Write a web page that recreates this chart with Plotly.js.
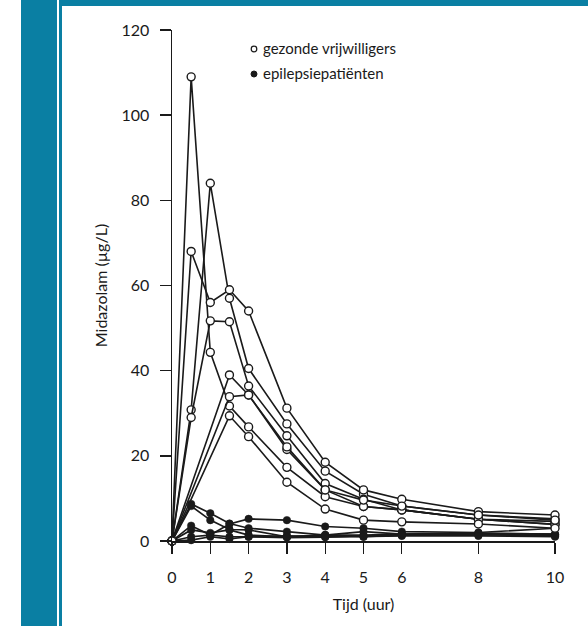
<!DOCTYPE html>
<html>
<head>
<meta charset="utf-8">
<script src="https://cdn.plot.ly/plotly-3.0.1.min.js"></script>
<style>
  html, body { margin: 0; padding: 0; background: #ffffff; }
  #wrap { position: relative; width: 588px; height: 626px; overflow: hidden; background: #ffffff; }
  .teal { position: absolute; background: #0a7fa3; }
  #chart { position: absolute; left: 0; top: 0; width: 588px; height: 626px; }
</style>
</head>
<body>
<div id="wrap">
  <div class="teal" style="left:21px; top:0; width:36px; height:626px;"></div>
  <div class="teal" style="left:59px; top:0; width:3px; height:626px;"></div>
  <div class="teal" style="left:59px; top:0; width:529px; height:6px;"></div>
  <div id="chart"></div>
</div>
<script>
// Time points (hours)
const tijd = [0, 0.5, 1, 1.5, 2, 3, 4, 5, 6, 8, 10];
const xTicks = [0, 1, 2, 3, 4, 5, 6, 8, 10];
const yTicks = [0, 20, 40, 60, 80, 100, 120];

// Healthy volunteers (open circles), midazolam µg/L
const vrijwilliger1 = [0, 109, 44.3, 31.7, 26.8, 17.3, 10.4, 8.1, 7.3, 5.1, 3.9];
const vrijwilliger2 = [0, 30.8, 84, 57, 40.5, 27.5, 16.4, 11, 8.2, 6.1, 5.2];
const vrijwilliger3 = [0, 68, 56, 59, 54, 31.2, 18.5, 12, 9.8, 6.9, 6.1];
const vrijwilliger4 = [0, 29, 51.7, 51.5, 36.4, 24.7, 13.5, 9.8, 7.3, 5.1, 4.6];
const vrijwilliger5 = [0, null, null, 39, 34.3, 21.5, 12, 8.1, 7.3, 5.1, 3.9];
const vrijwilliger6 = [0, null, null, 29.4, 24.5, 13.8, 7.5, 4.9, 4.5, 4.0, 3.0];
const vrijwilliger7 = [0, null, null, 33.9, 34.3, 22.1, 12, 9.6, 8.2, 6.1, 4.9];

// Epilepsy patients (filled circles)
const patient1 = [0, 8.7, 6.5, 4.1, 3.0, 2.2, 1.4, 1.4, 1.6, 1.8, 1.6];
const patient2 = [0, 8.2, 4.9, 2.7, 2.6, 1.0, 1.4, 1.0, 1.4, 1.5, 1.4];
const patient3 = [0, 3.6, 1.4, 4.0, 5.2, 4.9, 3.4, 3.0, 2.2, 2.0, 3.0];
const patient4 = [0, 2.6, 1.9, 2.6, 1.4, 1.0, 1.4, 2.2, 1.6, 1.8, 1.6];
const patient5 = [0, 1.0, 1.4, 1.0, 1.0, 1.2, 1.0, 1.2, 1.4, 1.5, 1.2];
const patient6 = [0, 0.2, 1.0, 0.5, 1.0, 0.8, 0.9, 1.0, 1.2, 1.2, 1.0];

const legendLabels = ["gezonde vrijwilligers", "epilepsiepatiënten"];

const ink = "#1a1a1a";
const volunteers = [vrijwilliger1, vrijwilliger2, vrijwilliger3, vrijwilliger4, vrijwilliger5, vrijwilliger6, vrijwilliger7];
const patients = [patient1, patient2, patient3, patient4, patient5, patient6];

const traces = [];
patients.forEach((p, i) => traces.push({
  x: tijd, y: p, type: "scatter", mode: "lines+markers", connectgaps: true,
  name: legendLabels[1] + " " + (i + 1), showlegend: false, cliponaxis: false,
  line: {color: ink, width: 1.7},
  marker: {symbol: "circle", size: 7.5, color: ink, line: {color: ink, width: 0.5}}
}));
volunteers.forEach((v, i) => traces.push({
  x: tijd, y: v, type: "scatter", mode: "lines+markers", connectgaps: true,
  name: legendLabels[0] + " " + (i + 1), showlegend: false, cliponaxis: false,
  line: {color: ink, width: 1.6},
  marker: {symbol: "circle", size: 8, color: "#ffffff", line: {color: ink, width: 1.4}}
}));

const fontFam = "Lato, 'Open Sans', sans-serif";
const layout = {
  width: 588, height: 626,
  margin: {l: 172, r: 33, t: 30, b: 85},
  paper_bgcolor: "rgba(0,0,0,0)",
  plot_bgcolor: "rgba(0,0,0,0)",
  font: {family: fontFam, color: ink, size: 16},
  showlegend: false,
  xaxis: {
    range: [0, 10], tickvals: xTicks, ticktext: xTicks.map(String),
    ticks: "outside", ticklen: 11, tickwidth: 1.4, tickcolor: ink,
    showline: true, linecolor: ink, linewidth: 1.5,
    showgrid: false, zeroline: false, fixedrange: true,
    tickfont: {size: 16, family: fontFam}, ticklabelstandoff: 10,
    title: {text: "Tijd (uur)", font: {size: 16, family: fontFam}, standoff: 14}
  },
  yaxis: {
    range: [0, 120], tickvals: yTicks, ticktext: yTicks.map(String),
    ticks: "outside", ticklen: 11, tickwidth: 1.4, tickcolor: ink,
    showline: true, linecolor: ink, linewidth: 1.5,
    showgrid: false, zeroline: false, fixedrange: true,
    tickfont: {size: 16, family: fontFam}, ticklabelstandoff: 7,
    title: {text: "Midazolam (µg/L)", font: {size: 16, family: fontFam}, standoff: 10}
  },
  shapes: [
    {type: "circle", xref: "paper", yref: "paper", xsizemode: "pixel", ysizemode: "pixel",
     xanchor: (254 - 172) / 383, yanchor: (541 - 49) / 511, x0: -2.8, x1: 2.8, y0: -2.8, y1: 2.8,
     line: {color: ink, width: 1.2}, fillcolor: "#ffffff"},
    {type: "circle", xref: "paper", yref: "paper", xsizemode: "pixel", ysizemode: "pixel",
     xanchor: (254 - 172) / 383, yanchor: (541 - 74) / 511, x0: -3, x1: 3, y0: -3, y1: 3,
     line: {color: ink, width: 1}, fillcolor: ink}
  ],
  annotations: [
    {text: legendLabels[0], xref: "paper", yref: "paper", x: (261 - 172) / 383, y: (541 - 48) / 511,
     xanchor: "left", yanchor: "middle", showarrow: false, font: {size: 15, family: fontFam, color: ink}},
    {text: legendLabels[1], xref: "paper", yref: "paper", x: (261 - 172) / 383, y: (541 - 73) / 511,
     xanchor: "left", yanchor: "middle", showarrow: false, font: {size: 15, family: fontFam, color: ink}}
  ]
};

Plotly.newPlot("chart", traces, layout, {displayModeBar: false, staticPlot: true});
</script>
</body>
</html>
